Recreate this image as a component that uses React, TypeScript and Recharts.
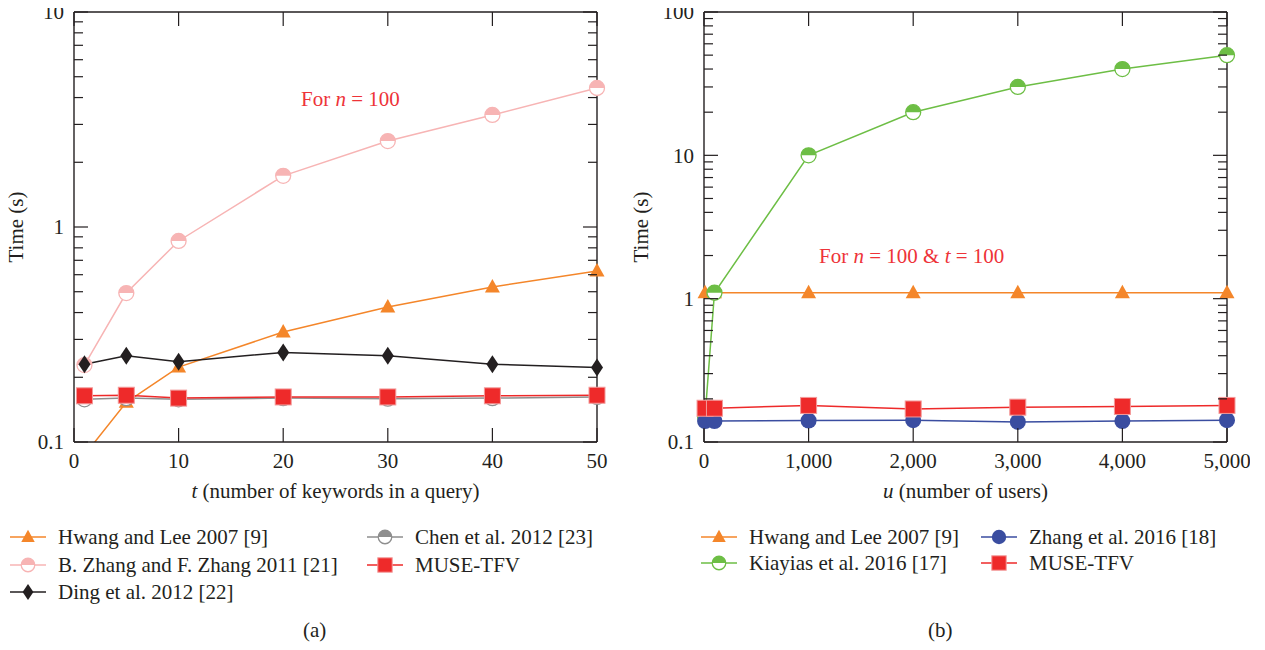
import React from "react";
import { LineChart, Line, XAxis, YAxis } from "recharts";

// ---- data (a): time vs number of keywords ----
const tValues = [1, 5, 10, 20, 30, 40, 50];
const hwangA = [0.087, 0.153, 0.223, 0.325, 0.425, 0.526, 0.624];
const zhangA = [0.228, 0.493, 0.861, 1.73, 2.51, 3.32, 4.43];
const dingA = [0.23, 0.252, 0.236, 0.261, 0.252, 0.23, 0.222];
const chenA = [0.158, 0.16, 0.158, 0.16, 0.159, 0.16, 0.162];
const museA = [0.164, 0.165, 0.16, 0.162, 0.162, 0.164, 0.165];
const xTicksA = [0, 10, 20, 30, 40, 50];
const yTicksA = [0.1, 0.2, 0.3, 0.4, 0.5, 0.6, 0.7, 0.8, 0.9, 1, 2, 3, 4, 5, 6, 7, 8, 9, 10];

// ---- data (b): time vs number of users ----
const uValues = [10, 100, 1000, 2000, 3000, 4000, 5000];
const hwangB = [1.1, 1.1, 1.1, 1.1, 1.1, 1.1, 1.1];
const kiayiasB = [0.15, 1.1, 10, 20, 30, 40, 50];
const zhang16B = [0.14, 0.14, 0.141, 0.142, 0.138, 0.14, 0.142];
const museB = [0.172, 0.172, 0.18, 0.17, 0.175, 0.177, 0.18];
const xTicksB = [0, 1000, 2000, 3000, 4000, 5000];
const yTicksB = [
  0.1, 0.2, 0.3, 0.4, 0.5, 0.6, 0.7, 0.8, 0.9, 1, 2, 3, 4, 5, 6, 7, 8, 9, 10,
  20, 30, 40, 50, 60, 70, 80, 90, 100,
];

const INK = "#231f20";
const FONT = '"Liberation Serif", "DejaVu Serif", serif';
const ANNOT = "#ee3338";
const FS = 21;

type Marker = "triangle" | "half" | "diamond" | "square" | "dot";

type Series = {
  name: string;
  values: number[];
  color: string;
  marker: Marker;
};

const seriesA: Series[] = [
  { name: "Hwang and Lee 2007 [9]", values: hwangA, color: "#f4862a", marker: "triangle" },
  { name: "B. Zhang and F. Zhang 2011 [21]", values: zhangA, color: "#f7b4b4", marker: "half" },
  { name: "Ding et al. 2012 [22]", values: dingA, color: "#231f20", marker: "diamond" },
  { name: "Chen et al. 2012 [23]", values: chenA, color: "#8e8e8e", marker: "half" },
  { name: "MUSE-TFV", values: museA, color: "#ee2a2a", marker: "square" },
];

const seriesB: Series[] = [
  { name: "Hwang and Lee 2007 [9]", values: hwangB, color: "#f4862a", marker: "triangle" },
  { name: "Kiayias et al. 2016 [17]", values: kiayiasB, color: "#6dbe45", marker: "half" },
  { name: "Zhang et al. 2016 [18]", values: zhang16B, color: "#3a4da0", marker: "dot" },
  { name: "MUSE-TFV", values: museB, color: "#ee2a2a", marker: "square" },
];

function drawMarker(kind: Marker, cx: number, cy: number, color: string, s = 1) {
  if (kind === "triangle") {
    return (
      <path
        d={`M${cx},${cy - 8 * s} L${cx + 7.5 * s},${cy + 5.5 * s} L${cx - 7.5 * s},${cy + 5.5 * s} Z`}
        fill={color}
      />
    );
  }
  if (kind === "half") {
    const r = 7.5 * s;
    return (
      <g>
        <circle cx={cx} cy={cy} r={r} fill="#fff" stroke={color} strokeWidth={1.3} />
        <path d={`M${cx - r},${cy} A${r},${r} 0 0 1 ${cx + r},${cy} Z`} fill={color} />
      </g>
    );
  }
  if (kind === "diamond") {
    return (
      <path
        d={`M${cx},${cy - 9 * s} L${cx + 6 * s},${cy} L${cx},${cy + 9 * s} L${cx - 6 * s},${cy} Z`}
        fill={color}
      />
    );
  }
  if (kind === "square") {
    const h = 8 * s;
    return (
      <rect x={cx - h} y={cy - h} width={2 * h} height={2 * h} fill={color} stroke="#f39a9a" strokeWidth={1} />
    );
  }
  return <circle cx={cx} cy={cy} r={8 * s} fill={color} />;
}

const isMajor = (v: number) => Math.abs(Math.log10(v) - Math.round(Math.log10(v))) < 1e-6;

const txt = { fontFamily: FONT, fontSize: FS, fill: INK } as const;

function LeftTick(props: any) {
  const { x, y, payload } = props;
  const major = isMajor(payload.value);
  return (
    <g>
      <line x1={x} x2={x + (major ? 14 : 9)} y1={y} y2={y} stroke={INK} strokeWidth={1.2} />
      {major && (
        <text x={x - 10} y={y} dy="0.35em" textAnchor="end" {...txt}>
          {payload.value}
        </text>
      )}
    </g>
  );
}

function RightTick(props: any) {
  const { x, y, payload } = props;
  const major = isMajor(payload.value);
  return <line x1={x} x2={x - (major ? 14 : 9)} y1={y} y2={y} stroke={INK} strokeWidth={1.2} />;
}

function TopTick(props: any) {
  const { x, y } = props;
  return <line x1={x} x2={x} y1={y} y2={y + 14} stroke={INK} strokeWidth={1.2} />;
}

const makeBottomTick = (fmt: (v: number) => string) => (props: any) => {
  const { x, y, payload } = props;
  return (
    <g>
      <line x1={x} x2={x} y1={y} y2={y - 14} stroke={INK} strokeWidth={1.2} />
      <text x={x} y={y + 26} textAnchor="middle" {...txt}>
        {fmt(payload.value)}
      </text>
    </g>
  );
};

function YTitle(props: any) {
  const { viewBox, offsetX } = props;
  const cy = viewBox.y + viewBox.height / 2;
  return (
    <text
      x={offsetX}
      y={cy}
      transform={`rotate(-90 ${offsetX} ${cy})`}
      textAnchor="middle"
      dominantBaseline="middle"
      {...txt}
    >
      Time (s)
    </text>
  );
}

function XTitle(props: any) {
  const { viewBox, sym, rest } = props;
  const cx = viewBox.x + viewBox.width / 2;
  return (
    <text x={cx} y={viewBox.y + 56} textAnchor="middle" {...txt}>
      <tspan fontStyle="italic">{sym}</tspan>
      {rest}
    </text>
  );
}

type PanelProps = {
  xs: number[];
  series: Series[];
  xTicks: number[];
  yTicks: number[];
  xDomain: [number, number];
  yDomain: [number, number];
  fmt: (v: number) => string;
  sym: string;
  rest: string;
  yTitleX: number;
};

function Panel({ xs, series, xTicks, yTicks, xDomain, yDomain, fmt, sym, rest, yTitleX }: PanelProps) {
  const data = xs.map((x, i) => {
    const row: Record<string, number> = { x };
    series.forEach((s, j) => {
      row["s" + j] = s.values[i];
    });
    return row;
  });
  const axisLine = { stroke: INK, strokeWidth: 1.4 };
  return (
    <LineChart width={620} height={515} data={data} margin={{ top: 11, right: 22, left: 0, bottom: 0 }}>
      <XAxis
        xAxisId="b"
        dataKey="x"
        type="number"
        domain={xDomain}
        ticks={xTicks}
        interval={0}
        height={73}
        tickSize={0}
        tickMargin={0}
        tickLine={false}
        axisLine={axisLine}
        tick={makeBottomTick(fmt)}
        label={<XTitle sym={sym} rest={rest} />}
      />
      <XAxis
        xAxisId="t"
        orientation="top"
        dataKey="x"
        type="number"
        domain={xDomain}
        ticks={xTicks}
        interval={0}
        height={1}
        tickSize={0}
        tickMargin={0}
        tickLine={false}
        axisLine={axisLine}
        tick={<TopTick />}
      />
      <YAxis
        yAxisId="l"
        type="number"
        scale="log"
        domain={yDomain}
        allowDataOverflow
        ticks={yTicks}
        interval={0}
        width={74}
        tickSize={0}
        tickMargin={0}
        tickLine={false}
        axisLine={axisLine}
        tick={<LeftTick />}
        label={<YTitle offsetX={yTitleX} />}
      />
      <YAxis
        yAxisId="r"
        orientation="right"
        type="number"
        scale="log"
        domain={yDomain}
        allowDataOverflow
        ticks={yTicks}
        interval={0}
        width={1}
        tickSize={0}
        tickMargin={0}
        tickLine={false}
        axisLine={axisLine}
        tick={<RightTick />}
      />
      {series.map((s, j) => (
        <Line
          key={s.name}
          xAxisId="b"
          yAxisId="l"
          dataKey={"s" + j}
          name={s.name}
          stroke={s.color}
          strokeWidth={1.5}
          isAnimationActive={false}
          dot={(p: any) => (
            <g key={`${s.name}-${p.index}`}>{drawMarker(s.marker, p.cx, p.cy, s.color)}</g>
          )}
          activeDot={false}
        />
      ))}
    </LineChart>
  );
}

function LegendItem({ s, left, top }: { s: Series; left: number; top: number }) {
  return (
    <div
      style={{
        position: "absolute",
        left,
        top: top - 13,
        height: 26,
        display: "flex",
        alignItems: "center",
        fontFamily: FONT,
        fontSize: FS,
        color: INK,
        whiteSpace: "nowrap",
      }}
    >
      <svg width={38} height={24} style={{ marginRight: 11 }}>
        <line x1={1} x2={37} y1={12} y2={12} stroke={s.color} strokeWidth={1.5} />
        {drawMarker(s.marker, 19, 12, s.color, 0.9)}
      </svg>
      {s.name}
    </div>
  );
}

const abs = (left: number, top: number): React.CSSProperties => ({
  position: "absolute",
  left,
  top,
  fontFamily: FONT,
  fontSize: FS,
  lineHeight: "26px",
  whiteSpace: "nowrap",
});

export default function App() {
  const plain = (v: number) => String(v);
  const comma = (v: number) => v.toLocaleString("en-US");
  return (
    <div style={{ position: "relative", width: 1265, height: 650, margin: -8, background: "#fff" }}>
      <div style={{ position: "absolute", left: 0, top: 0 }}>
        <Panel
          xs={tValues}
          series={seriesA}
          xTicks={xTicksA}
          yTicks={yTicksA}
          xDomain={[0, 50]}
          yDomain={[0.1, 10]}
          fmt={plain}
          sym="t"
          rest=" (number of keywords in a query)"
          yTitleX={18}
        />
      </div>
      <div style={{ position: "absolute", left: 630, top: 0 }}>
        <Panel
          xs={uValues}
          series={seriesB}
          xTicks={xTicksB}
          yTicks={yTicksB}
          xDomain={[0, 5000]}
          yDomain={[0.1, 100]}
          fmt={comma}
          sym="u"
          rest=" (number of users)"
          yTitleX={13}
        />
      </div>

      <div style={{ ...abs(301, 86), color: ANNOT }}>
        For <i>n</i> = 100
      </div>
      <div style={{ ...abs(819, 243), color: ANNOT }}>
        For <i>n</i> = 100 &amp; <i>t</i> = 100
      </div>

      <LegendItem s={seriesA[0]} left={9} top={537} />
      <LegendItem s={seriesA[1]} left={9} top={565} />
      <LegendItem s={seriesA[2]} left={9} top={592} />
      <LegendItem s={seriesA[3]} left={366} top={537} />
      <LegendItem s={seriesA[4]} left={366} top={565} />

      <LegendItem s={seriesB[0]} left={700} top={537} />
      <LegendItem s={seriesB[1]} left={700} top={563} />
      <LegendItem s={seriesB[2]} left={980} top={537} />
      <LegendItem s={seriesB[3]} left={980} top={563} />

      <div style={{ ...abs(303, 617), color: INK }}>(a)</div>
      <div style={{ ...abs(928, 617), color: INK }}>(b)</div>
    </div>
  );
}
